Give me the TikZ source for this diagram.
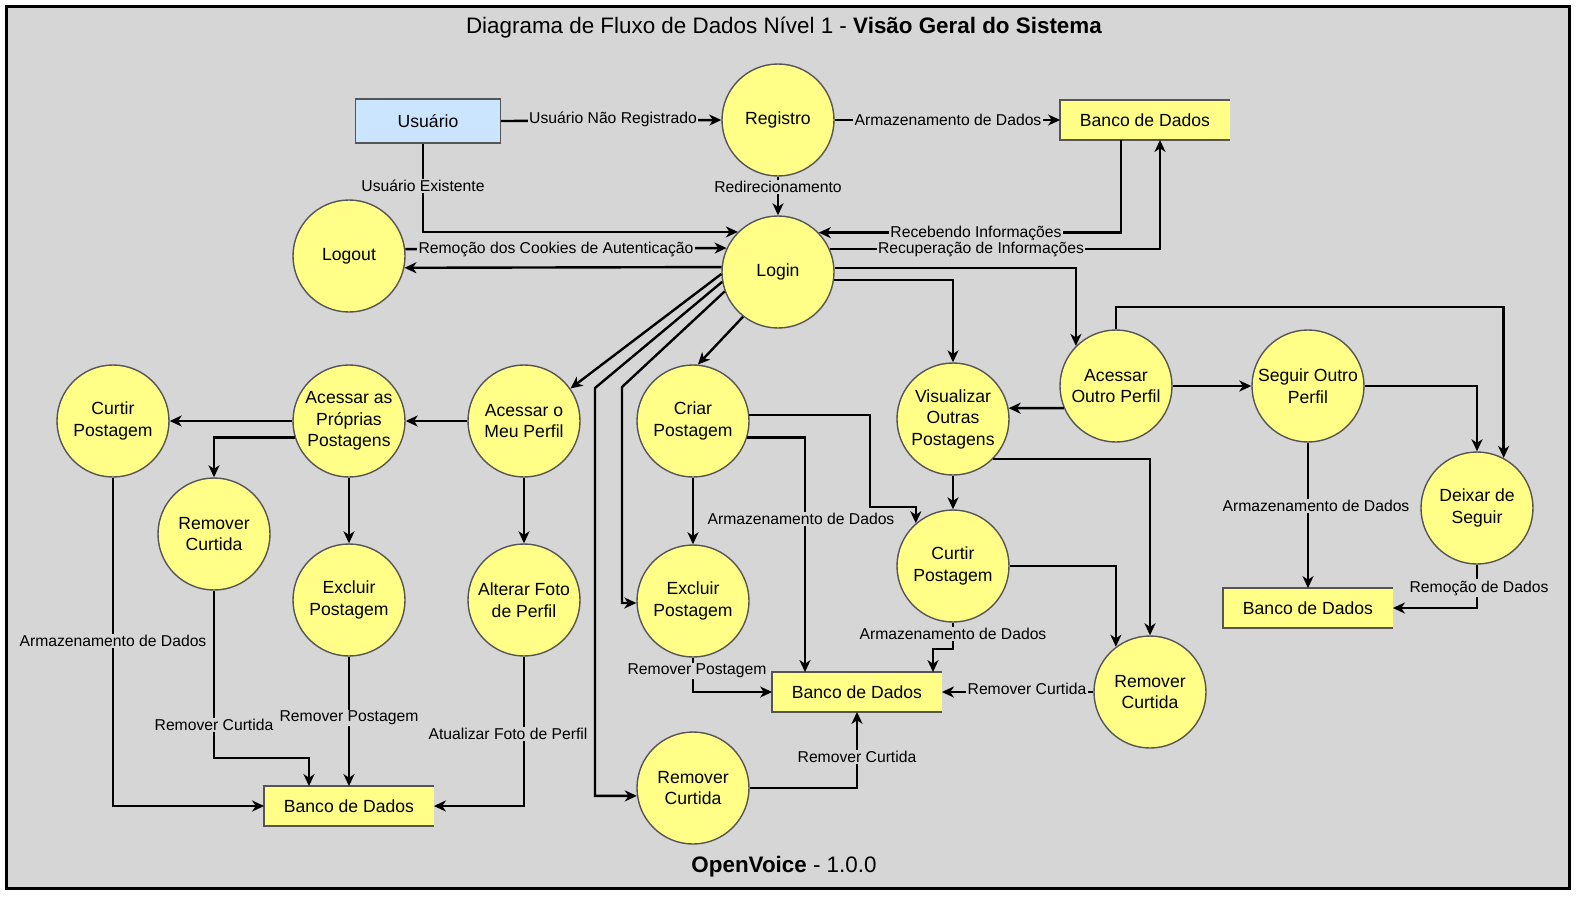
\documentclass[tikz,border=0pt]{standalone}
\usepackage{fontspec}
\setmainfont{Liberation Sans}
\usetikzlibrary{arrows.meta,calc}
\definecolor{bgc}{HTML}{D6D6D6}
\definecolor{yel}{HTML}{FFFF88}
\definecolor{bluef}{HTML}{CCE5FF}
\definecolor{bord}{HTML}{555555}
\newcommand\nodefont{\fontsize{8.8pt}{10.75pt}\selectfont}
\newcommand\lblfont{\fontsize{7.85pt}{9pt}\selectfont}
\newcommand\bigfont{\fontsize{11.2pt}{13pt}\selectfont}
\begin{document}
\begin{tikzpicture}[x=0.5pt,y=-0.5pt,
 proc/.style={circle, fill=yel, draw=bord, line width=0.7pt, minimum size=56pt, inner sep=0pt, align=center, font=\nodefont},
 ext/.style={rectangle, fill=bluef, draw=bord, line width=0.7pt, minimum width=72.5pt, minimum height=22pt, inner sep=0pt, font=\nodefont},
 dstore/.style={rectangle, fill=yel, minimum width=84.5pt, minimum height=19.5pt, inner sep=0pt, font=\nodefont},
 dsline/.style={draw=bord, line width=0.7pt},
 flow/.style={draw=black, line width=1.2pt, -{Stealth[length=6pt,width=5.5pt,inset=1.8pt]}},
 lbl/.style={fill=bgc, inner sep=0.6pt, font=\lblfont},
]
\useasboundingbox (0,0) rectangle (1576,896);
\fill[white] (0,0) rectangle (1576,896);
\draw[fill=bgc, line width=1.5pt] (6,6) rectangle (1569,888);

\node (title) at (784,28) {\bigfont Diagrama de Fluxo de Dados Nível 1 - \textbf{Visão Geral do Sistema}};
\node (footer) at (784,867) {\bigfont \textbf{OpenVoice} - 1.0.0};

% nodes
\node[ext] (usr) at (428,121) {Usuário};
\node[proc] (reg) at (778,120) {Registro};
\node[dstore] (db1) at (1145,120) {Banco de Dados};
\node[proc] (logout) at (349,256) {Logout};
\node[proc] (login) at (778,272) {Login};
\node[proc] (cp1) at (113,421) {Curtir\\Postagem};
\node[proc] (app) at (349,421) {Acessar as\\Próprias\\Postagens};
\node[proc] (amp) at (524,421) {Acessar o\\Meu Perfil};
\node[proc] (crp) at (693,421) {Criar\\Postagem};
\node[proc] (vop) at (953,419) {Visualizar\\Outras\\Postagens};
\node[proc] (aop) at (1116,386) {Acessar\\Outro Perfil};
\node[proc] (sop) at (1308,386) {Seguir Outro\\Perfil};
\node[proc] (dds) at (1477,508) {Deixar de\\Seguir};
\node[proc] (rc1) at (214,534) {Remover\\Curtida};
\node[proc] (ep1) at (349,600) {Excluir\\Postagem};
\node[proc] (afp) at (524,600) {Alterar Foto\\de Perfil};
\node[proc] (ep2) at (693,601) {Excluir\\Postagem};
\node[proc] (cp2) at (953,566) {Curtir\\Postagem};
\node[proc] (rc2) at (1150,692) {Remover\\Curtida};
\node[proc] (rc3) at (693,788) {Remover\\Curtida};
\node[dstore] (db2) at (1308,608) {Banco de Dados};
\node[dstore] (db3) at (857,692) {Banco de Dados};
\node[dstore] (db4) at (349,806) {Banco de Dados};
\foreach \n in {db1,db2,db3,db4}
  \draw[dsline] (\n.north east) -- (\n.north west) -- (\n.south west) -- (\n.south east);

% flows
\draw[flow] (usr.east) -- (reg.west);
\draw[flow] ([xshift=-2.5pt]usr.south) |- (login.135.9);
\draw[flow] (reg.east) -- (db1.west);
\draw[flow] (reg.south) -- (login.north);
\draw[flow] ([xshift=-12pt]db1.south) |- (login.44.1);
\draw[flow] (login.24.2) -| ([xshift=7.5pt]db1.south);
\draw[flow] (logout.7.2) -- (login.155.8);
\draw[flow] (login.175.9) -- (logout.-12.4);
\draw[flow] (login.4.1) -| (aop.135.6);
\draw[flow] (login.-8.2) -| (vop.north);
\draw[flow] (login.182) -- (amp.35);
\draw[flow] (login.190) -- (595,388) |- (rc3.188);
\draw[flow] (login.200) -- (622,387) |- (ep2.182);
\draw[flow] (login.232) -- (crp.85);
\draw[flow] (amp.west) -- (app.east);
\draw[flow] (amp.south) -- (afp.north);
\draw[flow] (app.west) -- (cp1.east);
\draw[flow] (app.197) -| (rc1.north);
\draw[flow] (app.south) -- (ep1.north);
\draw[flow] (cp1.south) |- (db4.west);
\draw[flow] (rc1.south) -- (214,758) -| ([xshift=-20pt]db4.north);
\draw[flow] (ep1.south) -- (db4.north);
\draw[flow] (afp.south) |- (db4.east);
\draw[flow] (crp.south) -- (ep2.north);
\draw[flow] (crp.-17) -| ([xshift=-26pt]db3.north);
\draw[flow] (crp.6) -| (870,507) -| (cp2.131.4);
\draw[flow] (ep2.south) |- (db3.west);
\draw[flow] (rc3.east) -| (db3.south);
\draw[flow] (vop.south) -- (cp2.north);
\draw[flow] (vop.-45) -| (rc2.north);
\draw[flow] (cp2.south) -- (953,649) -| ([xshift=38pt]db3.north);
\draw[flow] (cp2.east) -| (rc2.127.4);
\draw[flow] (rc2.west) -- (rc2.west -| db3.east);
\draw[flow] (aop.203.1) -- (vop.11.3);
\draw[flow] (aop.east) -- (sop.west);
\draw[flow] (aop.north) -- (1116,307) -| (dds.62.3);
\draw[flow] (sop.east) -| (dds.north);
\draw[flow] (sop.south) -- (db2.north);
\draw[flow] (dds.south) |- (db2.east);

% labels
\node[lbl] (l1) at (613,119) {Usuário Não Registrado};
\node[lbl] (l2) at (423,186) {Usuário Existente};
\node[lbl] (l3) at (948,120) {Armazenamento de Dados};
\node[lbl] (l4) at (778,187) {Redirecionamento};
\node[lbl] (l5) at (976,233) {Recebendo Informações};
\node[lbl] (l6) at (981,249) {Recuperação de Informações};
\node[lbl] (l7) at (556,249) {Remoção dos Cookies de Autenticação};
\node[lbl] (l8) at (113,641) {Armazenamento de Dados};
\node[lbl] (l9) at (214,725) {Remover Curtida};
\node[lbl] (l10) at (349,718) {Remover Postagem};
\node[lbl] (l11) at (508,734) {Atualizar Foto de Perfil};
\node[lbl] (l12) at (801,519) {Armazenamento de Dados};
\node[lbl] (l13) at (697,671) {Remover Postagem};
\node[lbl] (l14) at (857,757) {Remover Curtida};
\node[lbl] (l15) at (953,634) {Armazenamento de Dados};
\node[lbl] (l16) at (1027,689) {Remover Curtida};
\node[lbl] (l17) at (1316,506) {Armazenamento de Dados};
\node[lbl] (l18) at (1479,588) {Remoção de Dados};
\end{tikzpicture}
\end{document}
